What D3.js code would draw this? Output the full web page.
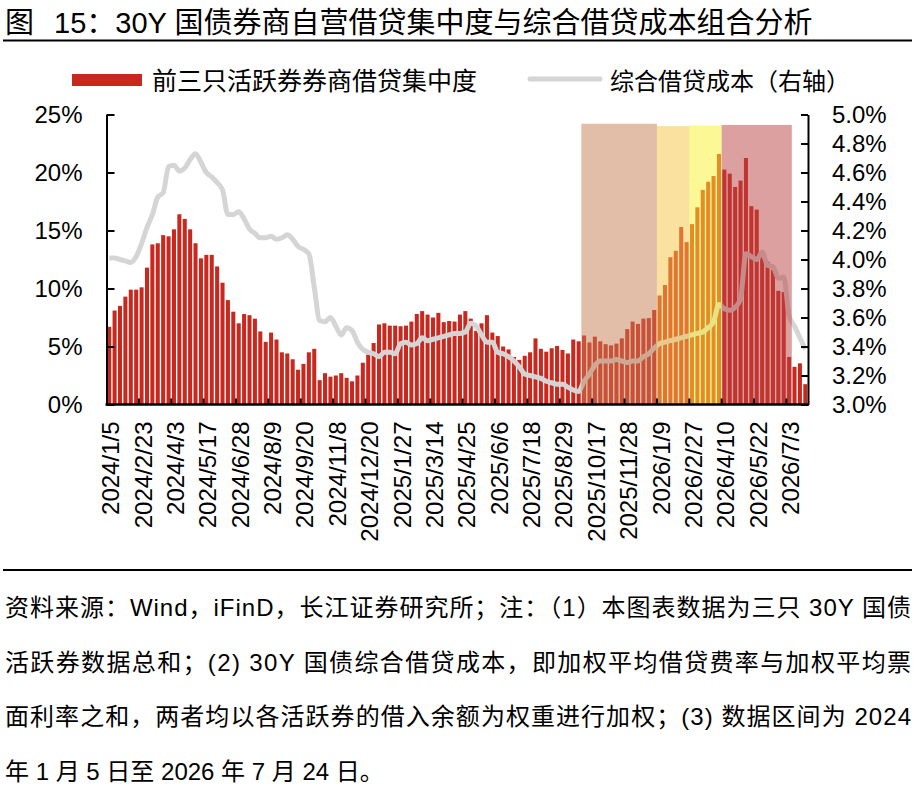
<!DOCTYPE html>
<html lang="zh">
<head>
<meta charset="UTF-8" />
<script src="https://d3js.org/d3.v7.min.js"></script>
<style>
  body { margin: 0; background: #fff; }
  svg text { font-family: "Liberation Sans", Arial, "Noto Sans CJK SC", sans-serif; fill: #000; }
</style>
<title>30Y 国债券商自营借贷集中度与综合借贷成本</title>
</head>
<body>
<div id="chart"></div>
<script>
// x axis labels, one every 6 weeks (first week of each group)
const tickLabels = [
  "2024/1/5", "2024/2/23", "2024/4/3", "2024/5/17", "2024/6/28", "2024/8/9",
  "2024/9/20", "2024/11/8", "2024/12/20", "2025/1/27", "2025/3/14", "2025/4/25",
  "2025/6/6", "2025/7/18", "2025/8/29", "2025/10/17", "2025/11/28", "2026/1/9",
  "2026/2/27", "2026/4/10", "2026/5/22", "2026/7/3"
];

// 前三只活跃券券商借贷集中度 (%), weekly, 2024/1/5 - 2026/7/24
const concentration = [
  6.7, 8.1, 8.5, 9.3, 9.9, 9.9, 10.1, 11.8, 13.8, 13.9,
  14.6, 14.5, 15.1, 16.4, 16.0, 15.1, 13.9, 12.6, 12.9, 12.9,
  11.9, 10.5, 9.0, 8.0, 7.0, 7.8, 7.7, 7.4, 6.3, 5.4,
  6.2, 5.6, 4.5, 4.4, 3.9, 3.0, 3.5, 4.5, 4.8, 2.1,
  2.7, 2.4, 2.5, 2.7, 2.3, 2.0, 2.5, 3.6, 4.3, 5.3,
  6.9, 7.0, 6.8, 6.8, 6.75, 6.8, 7.15, 7.8, 8.05, 7.75,
  7.5, 7.9, 7.1, 7.2, 7.15, 7.75, 8.05, 7.4, 6.35, 7.0,
  7.7, 6.2, 5.9, 5.0, 4.75, 4.1, 3.85, 4.2, 4.5, 5.7,
  4.8, 4.55, 4.85, 5.05, 4.7, 4.4, 5.6, 5.45, 5.95, 5.35,
  5.85, 5.45, 5.2, 5.1, 5.25, 5.7, 6.5, 7.15, 6.95, 7.4,
  7.45, 8.15, 9.4, 10.3, 12.7, 13.25, 15.3, 14.0, 15.55, 17.0,
  18.5, 19.2, 19.7, 21.6, 20.25, 19.9, 18.75, 19.3, 21.25, 17.1,
  16.8, 12.9, 12.3, 11.6, 9.8, 9.7, 4.1, 3.25, 3.55, 1.75
];

// 综合借贷成本 (%, right axis)
const borrowCost = [
  4.01, 4.01, 4.00, 3.99, 3.98, 4.02, 4.11, 4.22, 4.31, 4.43,
  4.46, 4.64, 4.65, 4.61, 4.63, 4.69, 4.73, 4.67, 4.60, 4.57,
  4.53, 4.48, 4.31, 4.31, 4.33, 4.28, 4.21, 4.18, 4.15, 4.15,
  4.16, 4.14, 4.15, 4.17, 4.14, 4.09, 4.07, 4.04, 3.81, 3.58,
  3.57, 3.60, 3.54, 3.48, 3.53, 3.51, 3.43, 3.38, 3.36, 3.35,
  3.33, 3.36, 3.36, 3.35, 3.42, 3.43, 3.41, 3.42, 3.46, 3.44,
  3.45, 3.46, 3.47, 3.48, 3.49, 3.49, 3.50, 3.56, 3.54, 3.48,
  3.43, 3.43, 3.36, 3.35, 3.33, 3.30, 3.26, 3.21, 3.20, 3.19,
  3.18, 3.16, 3.15, 3.14, 3.14, 3.12, 3.10, 3.09, 3.16, 3.21,
  3.27, 3.30, 3.30, 3.30, 3.31, 3.30, 3.29, 3.30, 3.30, 3.33,
  3.35, 3.39, 3.42, 3.43, 3.44, 3.45, 3.46, 3.47, 3.48, 3.49,
  3.50, 3.53, 3.57, 3.69, 3.66, 3.65, 3.67, 3.73, 4.04, 4.02,
  4.00, 4.05, 3.96, 3.95, 3.87, 3.88, 3.61, 3.54, 3.46, 3.38
];

// highlighted periods, in week indices [start, end), top in left-axis %
const periodStart = [88, 102, 108, 114];
const periodEnd = [102, 108, 114, 127];
const periodTop = [24.2, 24.0, 24.05, 24.1];

const notes = [
  "资料来源：Wind，iFinD，长江证券研究所；注：（1）本图表数据为三只 30Y 国债",
  "活跃券数据总和；(2) 30Y 国债综合借贷成本，即加权平均借贷费率与加权平均票",
  "面利率之和，两者均以各活跃券的借入余额为权重进行加权；(3) 数据区间为 2024",
  "年 1 月 5 日至 2026 年 7 月 24 日。"
];

const width = 921, height = 805;
const plot = { left: 106.5, right: 808, top: 114.5, bottom: 404.5 };
const barColor = "#c9281e";
const lineColor = "#d5d5d5";
const periodColors = ["#c57b51", "#f7c341", "#fbf12d", "#b94141"];

const svg = d3.select("#chart").append("svg")
  .attr("width", width)
  .attr("height", height);

// title
const title = svg.append("text")
  .attr("x", 5).attr("y", 33)
  .style("font-size", "29px");
title.append("tspan").text("图");
title.append("tspan").attr("dx", 20).text("15：30Y 国债券商自营借贷集中度与综合借贷成本组合分析");
svg.append("line")
  .attr("x1", 3).attr("x2", 912).attr("y1", 40.5).attr("y2", 40.5)
  .attr("stroke", "#000").attr("stroke-width", 2);

// legend
svg.append("rect")
  .attr("x", 72).attr("y", 74).attr("width", 70).attr("height", 12)
  .attr("fill", barColor);
svg.append("text")
  .attr("x", 152).attr("y", 90)
  .style("font-size", "25px")
  .text("前三只活跃券券商借贷集中度");
svg.append("line")
  .attr("x1", 530).attr("x2", 600).attr("y1", 79).attr("y2", 79)
  .attr("stroke", lineColor).attr("stroke-width", 5).attr("stroke-linecap", "round");
svg.append("text")
  .attr("x", 610).attr("y", 90)
  .style("font-size", "24px")
  .text("综合借贷成本（右轴）");

// scales
const xScale = d3.scaleBand()
  .domain(d3.range(concentration.length))
  .range([plot.left, plot.right])
  .paddingInner(0.25)
  .paddingOuter(0.125);
const boundary = (i) => plot.left + i * xScale.step();

const yLeft = d3.scaleLinear().domain([0, 25]).range([plot.bottom, plot.top]);
const yRight = d3.scaleLinear().domain([3.0, 5.0]).range([plot.bottom, plot.top]);

// bars
svg.append("g")
  .selectAll("rect")
  .data(concentration)
  .join("rect")
  .attr("x", (d, i) => xScale(i))
  .attr("width", xScale.bandwidth())
  .attr("y", (d) => yLeft(d))
  .attr("height", (d) => yLeft(0) - yLeft(d))
  .attr("fill", barColor);

// cost line
const line = d3.line()
  .x((d, i) => xScale(i) + xScale.bandwidth() / 2)
  .y((d) => yRight(d))
  .curve(d3.curveMonotoneX);
svg.append("path")
  .datum(borrowCost)
  .attr("d", line)
  .attr("fill", "none")
  .attr("stroke", lineColor)
  .attr("stroke-width", 5)
  .attr("stroke-linejoin", "round");

// highlighted periods drawn on top
svg.append("g")
  .selectAll("rect")
  .data(periodStart)
  .join("rect")
  .attr("x", (d) => boundary(d))
  .attr("width", (d, i) => boundary(periodEnd[i]) - boundary(d))
  .attr("y", (d, i) => yLeft(periodTop[i]))
  .attr("height", (d, i) => yLeft(0) - yLeft(periodTop[i]))
  .attr("fill", (d, i) => periodColors[i])
  .attr("fill-opacity", 0.5);

// left axis
const gLeft = svg.append("g")
  .attr("transform", `translate(${plot.left},0)`)
  .call(d3.axisLeft(yLeft)
    .tickValues([0, 5, 10, 15, 20, 25])
    .tickFormat((d) => d + "%")
    .tickSizeInner(-8).tickSizeOuter(0).tickPadding(24));

// right axis
const gRight = svg.append("g")
  .attr("transform", `translate(${plot.right},0)`)
  .call(d3.axisRight(yRight)
    .tickValues(d3.range(3.0, 5.001, 0.2))
    .tickFormat(d3.format(".1f"))
    .tickSizeInner(-7).tickSizeOuter(0).tickPadding(24));
gRight.selectAll(".tick text").text(function () { return d3.select(this).text() + "%"; });

[gLeft, gRight].forEach((g) => {
  g.select(".domain").attr("stroke", "#000").attr("stroke-width", 2);
  g.selectAll(".tick line").attr("stroke", "#000").attr("stroke-width", 2);
  g.selectAll(".tick text").style("font-size", "24px").attr("fill", "#000");
});

// bottom axis
const labelIdx = tickLabels.map((d, i) => i * 6);
const gBottom = svg.append("g")
  .attr("transform", `translate(0,${plot.bottom})`);
gBottom.append("line")
  .attr("x1", plot.left - 1).attr("x2", plot.right + 1)
  .attr("stroke", "#000").attr("stroke-width", 2.5);
gBottom.selectAll("line.tick")
  .data(labelIdx.slice(1))
  .join("line")
  .attr("class", "tick")
  .attr("x1", (d) => boundary(d)).attr("x2", (d) => boundary(d))
  .attr("y1", 0).attr("y2", -6)
  .attr("stroke", "#000").attr("stroke-width", 2);
gBottom.selectAll("text")
  .data(labelIdx)
  .join("text")
  .attr("transform", (d) => `translate(${xScale(d) + xScale.bandwidth() / 2 + 1.5},17) rotate(-90)`)
  .attr("text-anchor", "end")
  .attr("dominant-baseline", "central")
  .style("font-size", "24px")
  .text((d, i) => tickLabels[i]);

// notes
svg.append("line")
  .attr("x1", 3).attr("x2", 912).attr("y1", 570).attr("y2", 570)
  .attr("stroke", "#000").attr("stroke-width", 2);
const noteY = [616, 670.5, 725, 780];
svg.selectAll("text.note")
  .data(notes)
  .join("text")
  .attr("class", "note")
  .attr("x", 5)
  .attr("y", (d, i) => noteY[i])
  .style("font-size", "24px")
  .each(function (d, i) {
    if (i < notes.length - 1) {
      d3.select(this).attr("textLength", 906).attr("lengthAdjust", "spacing");
    }
  })
  .text((d) => d);
</script>
</body>
</html>
